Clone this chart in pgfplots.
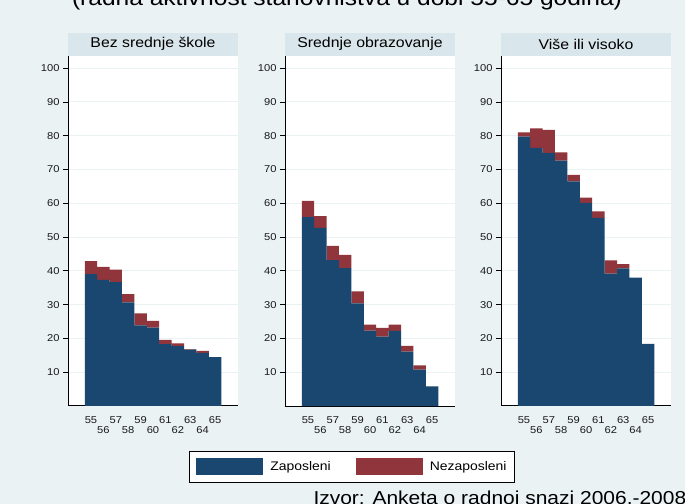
\documentclass[border=0pt]{standalone}
\usepackage{fontspec}
\setmainfont[FakeStretch=1.12]{Liberation Sans}
\usepackage{pgfplots}
\usepackage{pgfplotstable}
\pgfplotsset{compat=1.18}
\definecolor{bgc}{HTML}{EAF2F3}
\definecolor{stripc}{HTML}{D9E6EB}
\definecolor{zap}{HTML}{1A476F}
\definecolor{nez}{HTML}{90353B}
\definecolor{gridc}{HTML}{EAF2F3}

\pgfplotstableread{
x zap nez
55 39.05 3.85
56 37.3 3.9
57 36.7 3.7
58 30.7 2.4
59 23.9 3.5
60 23.2 2.0
61 18.3 1.3
62 17.7 0.8
63 16.7 0.15
64 15.7 0.6
65 14.5 0
}\tA
\pgfplotstableread{
x zap nez
55 55.9 4.8
56 52.7 3.5
57 43.2 4.2
58 40.8 3.9
59 30.4 3.5
60 22.3 1.8
61 20.5 2.6
62 22.2 1.9
63 16.1 1.7
64 10.8 1.2
65 5.8 0
}\tB
\pgfplotstableread{
x zap nez
55 79.7 1.3
56 76.4 5.8
57 74.9 6.8
58 72.6 2.5
59 66.5 1.9
60 60.1 1.6
61 55.7 1.9
62 39.2 3.9
63 40.7 1.3
64 38.0 0
65 18.4 0
}\tC

\pgfplotsset{
  every axis title/.style={at={(0.5,1)}, anchor=south, fill=stripc,
    minimum width=170bp, minimum height=23bp, inner sep=0pt,
    font=\fontsize{14.2}{16}\selectfont},
  panel/.style={
    width=170bp, height=350bp, scale only axis, anchor=south west,
    ymin=0, ymax=103.6, xmin=53.15, xmax=66.85,
    ybar stacked, bar width=1,
    axis lines*=left,
    axis line style={black, line width=1bp, -},
    axis background/.style={fill=white},
    ytick={10,20,...,100},
    xtick={55,57,...,65},
    extra x ticks={56,58,...,64},
    extra x tick style={grid=none, xtick style={draw=none}, tick label style={yshift=-10.5bp}},
    xtick style={draw=none},
    ytick style={black, line width=0.8bp},
    tick align=outside, major tick length=5bp,
    ymajorgrids, grid style={gridc, line width=1bp},
    /pgf/number format/assume math mode=true,
    tick label style={font=\fontsize{10}{11}\selectfont, black!90},
    xticklabel style={yshift=-2bp},
    clip=false,
  }
}

\begin{document}
\begin{tikzpicture}
\path[use as bounding box, clip] (0,0) rectangle (685bp,504bp);
\fill[bgc] (0,0) rectangle (685bp,504bp);
\node[anchor=base, font=\fontsize{22}{24}\selectfont] at (347bp,498bp) {(radna aktivnost stanovništva u dobi 55-65 godina)};

\begin{axis}[panel, at={(68bp,98bp)}, title={Bez srednje škole}]
\addplot[fill=zap, draw=none] table[x=x,y=zap]{\tA};
\addplot[fill=nez, draw=none] table[x=x,y=nez]{\tA};
\end{axis}

\begin{axis}[panel, at={(285bp,98bp)}, title={Srednje obrazovanje},
  legend style={at={(0.394,-0.1734)}, anchor=center, legend columns=2,
    draw=black, fill=white, line width=0.8bp,
    font=\fontsize{12.5}{14}\selectfont,
    inner xsep=6.5bp, inner ysep=7bp,
    nodes={inner sep=1bp},
    /tikz/every odd column/.append style={column sep=6bp},
    /tikz/every even column/.append style={column sep=24bp},
  }]
\addplot[fill=zap, draw=none, legend image code/.code={\fill[zap] (0bp,-8.5bp) rectangle (67bp,8.5bp);}] table[x=x,y=zap]{\tB};
\addplot[fill=nez, draw=none, legend image code/.code={\fill[nez] (0bp,-8.5bp) rectangle (67bp,8.5bp);}] table[x=x,y=nez]{\tB};
\legend{Zaposleni,Nezaposleni}
\end{axis}

\begin{axis}[panel, at={(501bp,98bp)}, title={Više ili visoko}]
\addplot[fill=zap, draw=none] table[x=x,y=zap]{\tC};
\addplot[fill=nez, draw=none] table[x=x,y=nez]{\tC};
\end{axis}

\node[anchor=base west, font=\fontsize{18.8}{21}\selectfont] at (310bp,0bp) {Izvor: Anketa o radnoj snazi 2006.-2008.};
\end{tikzpicture}
\end{document}
